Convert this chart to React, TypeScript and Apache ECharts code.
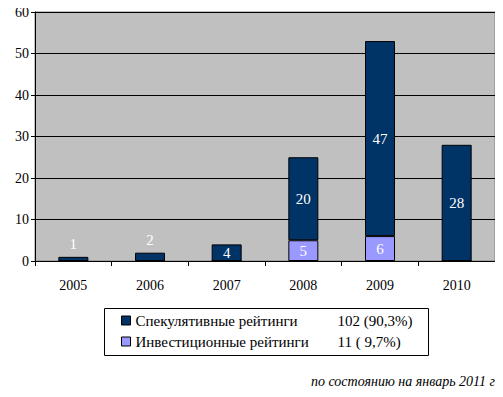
import React, { useEffect, useRef } from "react";
import * as echarts from "echarts";

const years = ["2005", "2006", "2007", "2008", "2009", "2010"];
const investment = [0, 0, 0, 5, 6, 0];
const speculative = [1, 2, 4, 20, 47, 28];
const yTicks = [0, 10, 20, 30, 40, 50, 60];
const legendNames = ["Спекулятивные рейтинги", "Инвестиционные рейтинги"];
const legendValues = ["102 (90,3%)", "11 ( 9,7%)"];
const footnote = "по состоянию на январь 2011 г";

const SERIF = "Liberation Serif";

export default function App() {
  const ref = useRef<HTMLDivElement>(null);
  useEffect(() => {
    if (!ref.current) return;
    const chart = echarts.init(ref.current, null, { renderer: "svg" });
    const mkData = (arr: number[]) =>
      arr.map((v) => ({
        value: v,
        label: { position: v > 0 && v < 3 ? "top" : "inside" },
      }));
    const labelCfg = {
      show: true,
      color: "#ffffff",
      fontFamily: SERIF,
      fontSize: 15,
      formatter: (p: any) => (p.value ? String(p.value) : ""),
    };
    chart.setOption({
      animation: false,
      backgroundColor: "#ffffff",
      textStyle: { fontFamily: SERIF },
      grid: {
        left: 35,
        right: 8,
        top: 12,
        bottom: 136,
        show: true,
        backgroundColor: "#C0C0C0",
        borderColor: "#808080",
        borderWidth: 1,
      },
      legend: {
        orient: "vertical",
        left: 121,
        top: 313,
        padding: 0,
        itemWidth: 9,
        itemHeight: 9,
        itemGap: 6,
        data: legendNames,
        icon: "rect",
        itemStyle: { borderColor: "#000", borderWidth: 1 },
        formatter: (name: string) => {
          const i = legendNames.indexOf(name);
          return `{a|${name}}{b|${legendValues[i]}}`;
        },
        textStyle: {
          fontFamily: SERIF,
          fontSize: 15,
          color: "#000",
          rich: {
            a: { width: 202, fontFamily: SERIF, fontSize: 15, color: "#000" },
            b: { fontFamily: SERIF, fontSize: 15, color: "#000" },
          },
        },
      },
      graphic: [
        {
          type: "rect",
          shape: { x: 104.5, y: 308.5, width: 324, height: 47 },
          style: { fill: "none", stroke: "#000", lineWidth: 1 },
        },
        {
          type: "text",
          style: {
            x: 311,
            y: 381,
            text: footnote,
            textAlign: "left",
            textVerticalAlign: "middle",
            fontFamily: SERIF,
            fontStyle: "italic",
            fontSize: 14,
            fill: "#000",
          },
        },
      ],
      xAxis: {
        type: "category",
        data: years,
        axisLine: { show: true, lineStyle: { color: "#000", width: 1 } },
        axisTick: { show: true, length: 5, alignWithLabel: false, lineStyle: { color: "#000" } },
        axisLabel: { color: "#000", fontFamily: SERIF, fontSize: 14, margin: 17 },
      },
      yAxis: {
        type: "value",
        min: 0,
        max: 60,
        interval: 10,
        axisLine: { show: true, lineStyle: { color: "#000", width: 1 } },
        axisTick: { show: true, length: 4, lineStyle: { color: "#000" } },
        axisLabel: {
          color: "#000",
          fontFamily: SERIF,
          fontSize: 14,
          margin: 6,
          formatter: (v: number) => (yTicks.includes(v) ? String(v) : ""),
        },
        splitLine: { show: true, lineStyle: { color: "#000", width: 1 } },
      },
      series: [
        {
          name: legendNames[1],
          type: "bar",
          stack: "total",
          barWidth: 30,
          data: mkData(investment),
          itemStyle: { color: "#9999FF", borderColor: "#000", borderWidth: 1 },
          label: labelCfg,
        },
        {
          name: legendNames[0],
          type: "bar",
          stack: "total",
          barWidth: 30,
          data: mkData(speculative),
          itemStyle: { color: "#003366", borderColor: "#000", borderWidth: 1 },
          label: labelCfg,
        },
      ],
    });
    return () => chart.dispose();
  }, []);
  return <div ref={ref} style={{ width: 503, height: 397, margin: -8 }} />;
}
